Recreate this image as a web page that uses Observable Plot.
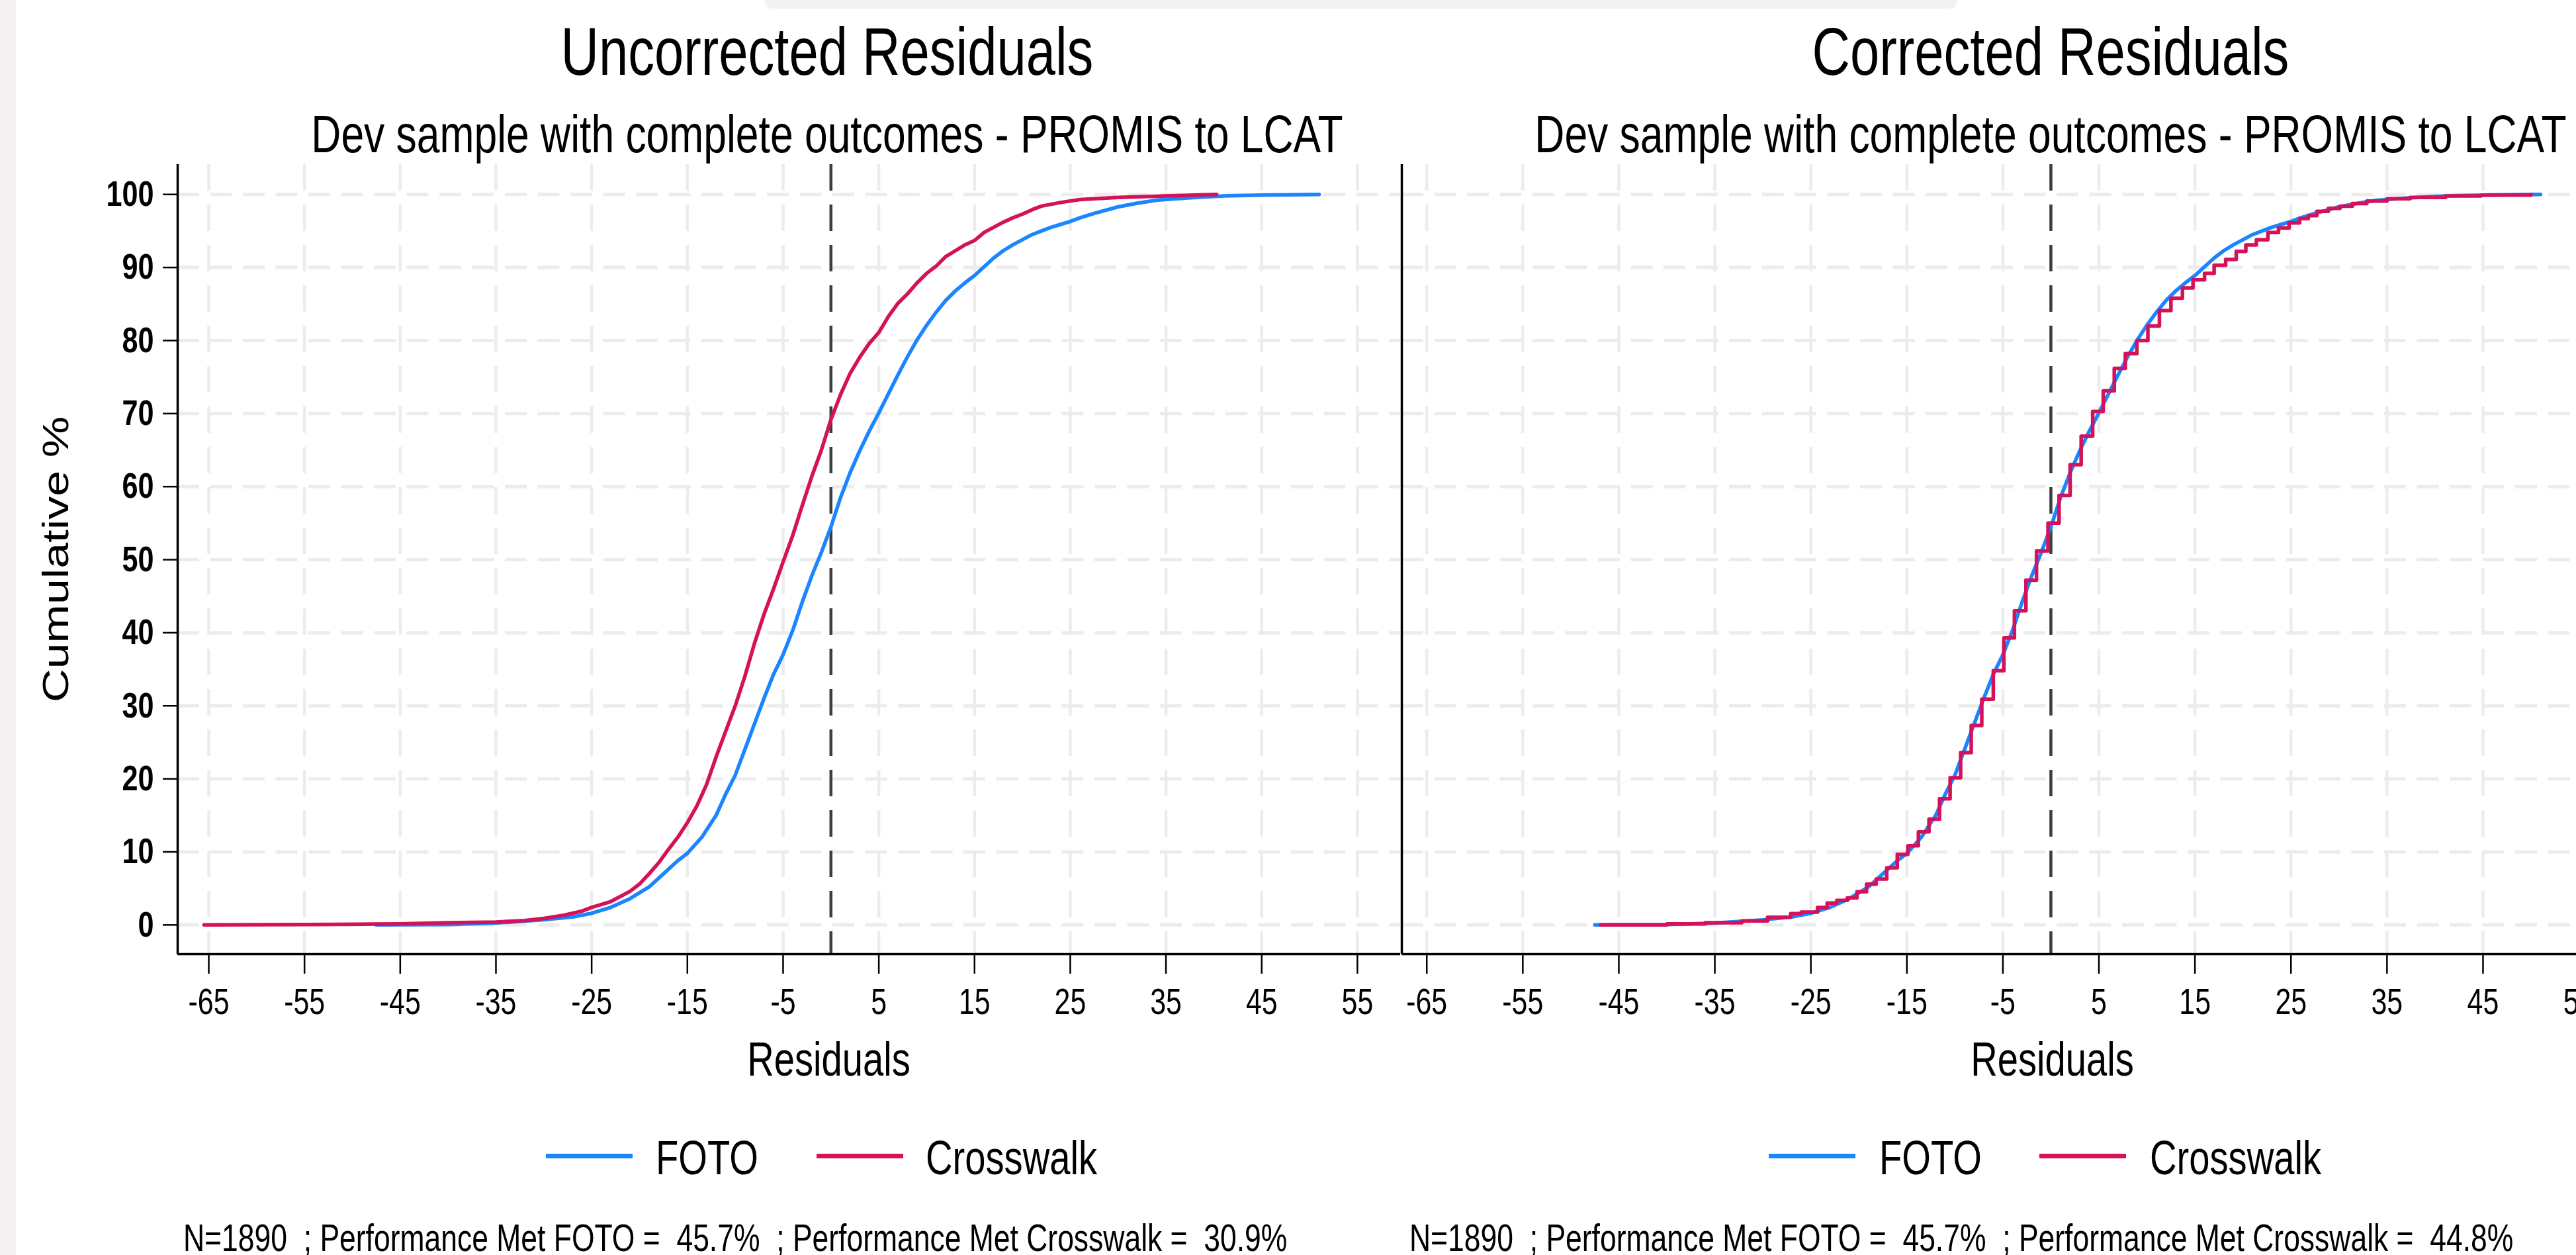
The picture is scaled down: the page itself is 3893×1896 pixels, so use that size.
<!DOCTYPE html>
<html>
<head>
<meta charset="utf-8">
<script src="https://cdn.jsdelivr.net/npm/d3@7"></script>
<script src="https://cdn.jsdelivr.net/npm/@observablehq/plot@0.6"></script>
<style>
  html, body { margin: 0; padding: 0; background: #fff; }
  body { width: 3893px; height: 1896px; overflow: hidden; position: relative;
         font-family: "Liberation Sans", Arial, Helvetica, sans-serif; color: #000; }
  .abs { position: absolute; white-space: pre; line-height: 1; }
  .ctr { text-align: center; transform: scaleX(0.78); transform-origin: 50% 50%; }
  .lft { transform: scaleX(0.78); transform-origin: 0 50%; }
</style>
</head>
<body>
<div style="position:absolute;left:0;top:0;width:24px;height:1896px;background:#f3f1f2"></div>
<div style="position:absolute;left:1156px;top:0;width:1802px;height:13px;background:#f3f1f2;border-radius:0 0 14px 14px"></div>
<script>
// ---------------- data ----------------
const panelTitles = ["Uncorrected Residuals", "Corrected Residuals"];
const panelSubtitle = "Dev sample with complete outcomes - PROMIS to LCAT";
const footerNotes = [
  "N=1890  ; Performance Met FOTO =  45.7%  ; Performance Met Crosswalk =  30.9%",
  "N=1890  ; Performance Met FOTO =  45.7%  ; Performance Met Crosswalk =  44.8%"
];
const xAxisTitle = "Residuals";
const yAxisTitle = "Cumulative %";
const seriesNames = ["FOTO", "Crosswalk"];
const seriesColors = ["#1a85ff", "#d41159"];
const xTicks = [-65, -55, -45, -35, -25, -15, -5, 5, 15, 25, 35, 45, 55];
const yTicks = [0, 10, 20, 30, 40, 50, 60, 70, 80, 90, 100];
const refLine = [0];

// FOTO residuals (same in both panels): residual, cumulative %
const fotoX = [-47.5,-40,-35,-30,-27,-25,-23,-21,-19,-17.5,-16,-15,-13.5,-12,-11,-10,-9,-8,-7,-6,-5,-4,-3,-2,-1,0,1,2,3,4,5,6,7,8,9,10,11,12,13,14,15,16,17,18,19,20,21,22,23,24,25,26,27.5,30,32,34,37,41,45,51];
const fotoPct = [0,0.05,0.25,0.7,1.1,1.6,2.4,3.6,5.2,7.0,8.8,9.8,12.0,15.0,17.9,20.5,24.0,27.5,31.0,34.3,37.0,40.3,44.2,47.8,51.0,54.5,58.5,61.9,64.9,67.6,70.1,72.7,75.3,77.8,80.1,82.1,83.9,85.5,86.8,87.9,88.9,90.1,91.3,92.3,93.1,93.8,94.5,95.0,95.5,95.9,96.3,96.8,97.4,98.3,98.8,99.2,99.5,99.8,99.9,100];

// Crosswalk, uncorrected
const crossUncX = [-65.5,-55,-45,-40,-35,-32,-30,-28,-26,-25,-23,-21,-20,-19,-18,-17,-16,-15,-14,-13,-12,-11,-10,-9,-8,-7,-6,-5,-4,-3,-2,-1,0,1,2,3,4,5,6,7,8,9,10,11,12,13,14,15,16,17,18,19,20,21,22,24,26,30,35,40.3];
const crossUncPct = [0,0.05,0.15,0.3,0.4,0.6,0.9,1.3,1.9,2.4,3.2,4.6,5.6,7.0,8.5,10.3,12.0,14.0,16.3,19.2,23.0,26.5,30.0,34.0,38.5,42.5,46.0,49.7,53.3,57.4,61.4,65.0,69.2,72.6,75.5,77.7,79.6,81.1,83.3,85.1,86.4,87.9,89.2,90.2,91.5,92.3,93.1,93.7,94.8,95.5,96.2,96.8,97.3,97.9,98.4,98.9,99.3,99.6,99.8,100];

// Crosswalk, corrected (step function)
const crossCorX = [-46.9,-40,-36,-32.2,-29.5,-27.1,-26.0,-24.3,-23.3,-22.3,-21.2,-20.2,-19.2,-18.2,-17.1,-16.0,-14.9,-13.8,-12.7,-11.6,-10.5,-9.4,-8.3,-7.2,-6.0,-4.9,-3.8,-2.6,-1.5,-0.3,0.85,2.0,3.15,4.35,5.45,6.6,7.75,8.95,10.1,11.3,12.5,13.7,14.8,16.0,17.0,18.2,19.3,20.3,21.4,22.6,23.7,24.8,25.9,26.8,27.7,28.9,30.1,31.4,32.9,35.0,37.4,41.1,44.8,50.0];
const crossCorPct = [0,0.15,0.3,0.56,1.05,1.54,1.75,2.38,3.0,3.36,3.71,4.55,5.59,6.29,7.83,9.65,10.84,12.73,14.48,17.27,20.14,23.6,27.3,30.9,34.8,39.3,43.0,47.2,51.2,55.0,58.8,63.0,66.9,70.3,73.1,76.2,78.2,80.0,82.0,84.1,85.8,87.2,88.3,89.2,90.3,91.1,92.2,93.1,93.8,94.8,95.4,96.1,96.7,97.1,97.7,98.1,98.4,98.75,99.1,99.4,99.6,99.8,99.9,100];

// ---------------- layout ----------------
const FONT = '"Liberation Sans", Arial, Helvetica, sans-serif';
const SQUISH = 0.78;
const panelLeft = [0, 2108];
const panelMarginLeft = [268, 10];
const frameW = 1848, frameTop = 248, frameBottom = 1441, marginBottom = 215;
const xDomains = [[-68.25, 59.5], [-67.6, 59.75]];
const yDomain = [-4.0, 104.1];
const titleCenters = [1250, 3099];

const rows = (xs, ys) => xs.map((x, i) => ({x, y: ys[i]}));

function squishText(svg) {
  svg.querySelectorAll("text").forEach(t => {
    const tr = t.getAttribute("transform") || "";
    const x = parseFloat(t.getAttribute("x") || 0) || 0;
    const inYAxis = t.closest('[aria-label="y-axis tick label"]');
    const s = inYAxis ? 0.8 : SQUISH;
    if (/rotate/.test(tr)) t.setAttribute("transform", `${tr} scale(1,${SQUISH})`);
    else t.setAttribute("transform", `${tr} translate(${x},0) scale(${s},1) translate(${-x},0)`);
  });
}

function makePanel(i) {
  const isLeft = i === 0;
  const ml = panelMarginLeft[i];
  const xDom = xDomains[i];
  const fotoRows = rows(fotoX, fotoPct);
  const crossRows = isLeft ? rows(crossUncX, crossUncPct) : rows(crossCorX, crossCorPct);
  const frameCenter = panelLeft[i] + ml + frameW / 2;
  const marks = [
    Plot.gridY(yTicks, {stroke: "#ececec", strokeOpacity: 1, strokeWidth: 5, strokeDasharray: "33,16.5"}),
    Plot.gridX(xTicks, {stroke: "#ececec", strokeOpacity: 1, strokeWidth: 4.5, strokeDasharray: "40,21"}),
    Plot.ruleX(refLine, {stroke: "#3d3d3d", strokeWidth: 4.5, strokeDasharray: "40,21"}),
    Plot.line(fotoRows, {x: "x", y: "y", stroke: seriesColors[0], strokeWidth: 5.5}),
    Plot.line(crossRows, {x: "x", y: "y", stroke: seriesColors[1], strokeWidth: 5.5,
                          curve: isLeft ? "linear" : "step-after"}),
    Plot.ruleX([xDom[0]], {stroke: "#000", strokeWidth: 3.5}),
    Plot.ruleY([yDomain[0]], {stroke: "#000", strokeWidth: 3.5}),
    Plot.axisX(xTicks, {anchor: "bottom", tickSize: 30, tickPadding: 21, fontSize: 55,
                        strokeWidth: 2.5, label: null, fill: "#000", tickFormat: d => String(d)}),
    Plot.text([xAxisTitle], {frameAnchor: "bottom", lineAnchor: "top", textAnchor: "middle", dy: 132,
                             dx: titleCenters[i] + 2 - frameCenter, fontSize: 72, fill: "#000"})
  ];
  if (isLeft) {
    marks.push(Plot.axisY(yTicks, {anchor: "left", tickSize: 22, tickPadding: 14, fontSize: 54,
                                   fontWeight: "bold", strokeWidth: 2.5, label: null, fill: "#000",
                                   tickFormat: d => String(d)}));
    marks.push(Plot.text([yAxisTitle], {frameAnchor: "left", textAnchor: "middle", lineAnchor: "middle",
                                        dx: -183, rotate: -90, fontSize: 70, fill: "#000"}));
  }
  const svg = Plot.plot({
    width: ml + frameW,
    height: frameBottom + marginBottom,
    marginTop: frameTop,
    marginBottom,
    marginLeft: ml,
    marginRight: 0,
    x: {domain: xDom},
    y: isLeft ? {domain: yDomain} : {domain: yDomain, axis: null},
    style: {background: "transparent", overflow: "visible", fontFamily: FONT, maxWidth: "none", color: "#000"},
    marks
  });
  squishText(svg);
  const holder = document.createElement("div");
  holder.style.cssText = `position:absolute;left:${panelLeft[i]}px;top:0;width:${ml + frameW}px;`;
  holder.appendChild(svg);
  document.body.appendChild(holder);
}

function addText(txt, cls, left, top, size, width, lh) {
  const d = document.createElement("div");
  d.className = "abs " + cls;
  d.textContent = txt;
  d.style.left = left + "px";
  d.style.top = top + "px";
  d.style.fontSize = size + "px";
  if (lh) d.style.lineHeight = lh;
  if (width) d.style.width = width + "px";
  document.body.appendChild(d);
}
function addSwatch(color, left, width, cy, thick) {
  const d = document.createElement("div");
  d.style.cssText = `position:absolute;left:${left}px;top:${cy - thick / 2}px;width:${width}px;height:${thick}px;background:${color}`;
  document.body.appendChild(d);
}

const legendSwatchX = [[825, 1234], [2673, 3082]];
const legendLabelX = [[991, 1399], [2840, 3249]];
const footerX = [277, 2130];

[0, 1].forEach(i => {
  makePanel(i);
  addText(panelTitles[i], "ctr", titleCenters[i] - 1000, 26.7, 102, 2000);
  addText(panelSubtitle, "ctr", titleCenters[i] - 1200, 162.6, 80, 2400);
  seriesNames.forEach((name, k) => {
    addSwatch(seriesColors[k], legendSwatchX[i][k], 131, 1746, 7);
    addText(name, "lft", legendLabelX[i][k], 1712.6, 72);
  });
  addText(footerNotes[i], "lft", footerX[i], 1848.9, 57, null, 0.75);
});
</script>
</body>
</html>
